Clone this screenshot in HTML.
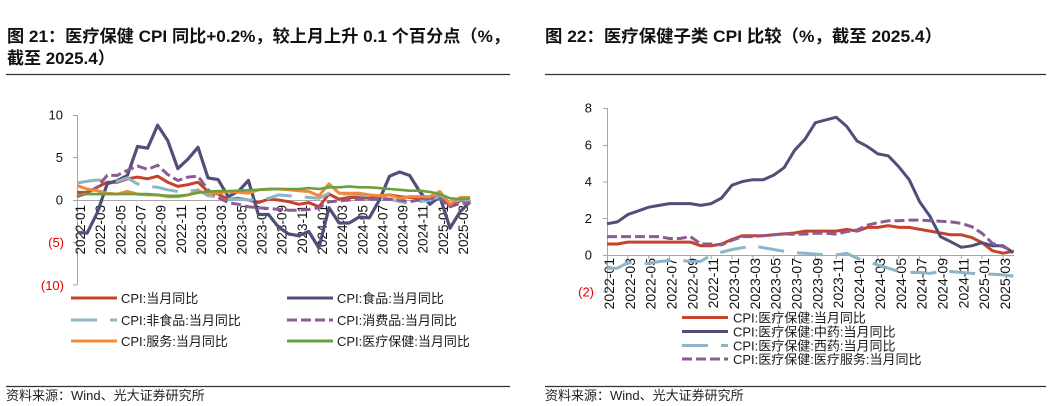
<!DOCTYPE html>
<html><head><meta charset="utf-8">
<style>
html,body{margin:0;padding:0;background:#fff;}
svg{display:block;}
text{font-family:"Liberation Sans","Noto Sans CJK SC",sans-serif;}
</style></head>
<body>
<svg width="1055" height="406" viewBox="0 0 1055 406" xmlns="http://www.w3.org/2000/svg">
<rect width="1055" height="406" fill="#fff"/>
<!-- Titles -->
<g font-weight="bold" font-size="17" fill="#111">
<text x="7" y="42" textLength="503" lengthAdjust="spacingAndGlyphs">图 21：医疗保健 CPI 同比+0.2%，较上月上升 0.1 个百分点（%，</text>
<text x="7" y="64">截至 2025.4）</text>
<text x="545" y="42" textLength="397" lengthAdjust="spacingAndGlyphs">图 22：医疗保健子类 CPI 比较（%，截至 2025.4）</text>
</g>
<line x1="6" y1="74.5" x2="510" y2="74.5" stroke="#333" stroke-width="1.2"/>
<line x1="545" y1="74.5" x2="1046" y2="74.5" stroke="#333" stroke-width="1.2"/>
<line x1="6" y1="386.5" x2="510" y2="386.5" stroke="#333" stroke-width="1.2"/>
<line x1="545" y1="386.5" x2="1046" y2="386.5" stroke="#333" stroke-width="1.2"/>
<text x="6" y="400" font-size="13" fill="#222">资料来源：Wind、光大证券研究所</text>
<text x="545" y="400" font-size="13" fill="#222">资料来源：Wind、光大证券研究所</text>

<!-- LEFT CHART -->
<g stroke="#a6a6a6" stroke-width="1">
<line x1="77.5" y1="115" x2="77.5" y2="285"/>
<line x1="73" y1="115.5" x2="77" y2="115.5"/>
<line x1="73" y1="157.5" x2="77" y2="157.5"/>
<line x1="73" y1="200.5" x2="77" y2="200.5"/>
<line x1="73" y1="242.5" x2="77" y2="242.5"/>
<line x1="73" y1="285" x2="77" y2="285"/>
<line x1="77" y1="200.5" x2="471" y2="200.5"/>
</g>
<g font-size="13" text-anchor="end">
<text x="63" y="119.5" fill="#111">10</text>
<text x="63" y="162" fill="#111">5</text>
<text x="63" y="204.5" fill="#111">0</text>
<text x="64" y="247" fill="#e00000">(5)</text>
<text x="64" y="290" fill="#e00000">(10)</text>
</g>
<g font-size="13.5" fill="#111" text-anchor="end">
<text transform="translate(85,205) rotate(-90)">2022-01</text>
<text transform="translate(105.2,205) rotate(-90)">2022-03</text>
<text transform="translate(125.3,205) rotate(-90)">2022-05</text>
<text transform="translate(145.5,205) rotate(-90)">2022-07</text>
<text transform="translate(165.6,205) rotate(-90)">2022-09</text>
<text transform="translate(185.8,205) rotate(-90)">2022-11</text>
<text transform="translate(206,205) rotate(-90)">2023-01</text>
<text transform="translate(226.2,205) rotate(-90)">2023-03</text>
<text transform="translate(246.3,205) rotate(-90)">2023-05</text>
<text transform="translate(266.4,205) rotate(-90)">2023-07</text>
<text transform="translate(286.6,205) rotate(-90)">2023-09</text>
<text transform="translate(306.8,205) rotate(-90)">2023-11</text>
<text transform="translate(326.9,205) rotate(-90)">2024-01</text>
<text transform="translate(347.1,205) rotate(-90)">2024-03</text>
<text transform="translate(367.3,205) rotate(-90)">2024-05</text>
<text transform="translate(387.4,205) rotate(-90)">2024-07</text>
<text transform="translate(407.6,205) rotate(-90)">2024-09</text>
<text transform="translate(427.7,205) rotate(-90)">2024-11</text>
<text transform="translate(447.9,205) rotate(-90)">2025-01</text>
<text transform="translate(468,205) rotate(-90)">2025-03</text>
</g>
<g fill="none" stroke-width="3" stroke-linejoin="round">
<polyline stroke="#c5432a" points="77,192.4 87.1,192.4 97.2,187.3 107.2,182.2 117.3,182.2 127.4,178.8 137.5,177.1 147.6,178.8 157.6,176.2 167.7,182.2 177.8,186.4 187.9,184.7 198,182.2 208,191.5 218.1,194.1 228.2,199.2 238.3,198.3 248.4,200 258.4,202.6 268.5,199.2 278.6,200 288.7,201.7 298.8,204.3 308.8,202.6 318.9,206.8 329,194.1 339.1,199.2 349.2,197.5 359.2,197.5 369.3,198.3 379.4,195.8 389.5,194.9 399.6,196.6 409.6,197.5 419.7,198.3 429.8,199.2 439.9,195.8 450,206 460,200.9 470.1,200.9"/>
<polyline stroke="#4f4f78" stroke-width="3.2" points="77,232.3 87.1,233.2 97.2,212.8 107.2,183.9 117.3,180.5 127.4,175.4 137.5,146.5 147.6,148.2 157.6,125.2 167.7,140.5 177.8,168.6 187.9,159.2 198,147.3 208,177.9 218.1,179.6 228.2,196.6 238.3,191.5 248.4,180.5 258.4,214.5 268.5,214.5 278.6,227.2 288.7,234 298.8,235.7 308.8,231.5 318.9,248 329,207.7 339.1,223 349.2,223 359.2,217 369.3,217.9 379.4,200 389.5,176.2 399.6,172 409.6,175.4 419.7,191.5 429.8,204.3 439.9,196.6 450,228.1 460,211.9 470.1,201.7"/>
<polyline stroke="#8db4c8" stroke-dasharray="26 13" points="77,183 87.1,181.3 97.2,180 107.2,180.5 117.3,181.3 127.4,177.9 137.5,183.9 147.6,186.4 157.6,187.3 167.7,189.8 177.8,191.5 187.9,191.5 198,189.8 208,195.8 218.1,196.6 228.2,199.2 238.3,199.2 248.4,200 258.4,199.2 268.5,198.3 278.6,194.9 288.7,195.8 298.8,196.6 308.8,197.5 318.9,198.3 329,193.2 339.1,194.1 349.2,194.1 359.2,194.9 369.3,195.8 379.4,196.6 389.5,199.2 399.6,201.7 409.6,203.4 419.7,201.7 429.8,200 439.9,196.6 450,202.6 460,200 470.1,200"/>
<polyline stroke="#8e5a96" stroke-dasharray="10 4" points="77,196.6 87.1,193.2 97.2,187.3 107.2,175.4 117.3,175.4 127.4,170.3 137.5,166 147.6,169.4 157.6,165.2 167.7,174.5 177.8,180.5 187.9,177.1 198,176.2 208,189.8 218.1,197.5 228.2,202.6 238.3,204.3 248.4,206.8 258.4,207.7 268.5,208.5 278.6,209.4 288.7,210.2 298.8,210.2 308.8,209.4 318.9,207.7 329,201.7 339.1,200.9 349.2,200 359.2,199.2 369.3,199.2 379.4,199.2 389.5,199.2 399.6,200 409.6,201.7 419.7,200 429.8,198.3 439.9,198.3 450,206.8 460,203.4 470.1,203.4"/>
<polyline stroke="#f08a3a" points="77,185.6 87.1,189 97.2,190.7 107.2,193.2 117.3,194.1 127.4,191.5 137.5,194.1 147.6,194.9 157.6,194.9 167.7,196.6 177.8,196.6 187.9,194.9 198,191.5 208,193.2 218.1,193.2 228.2,191.5 238.3,192.4 248.4,193.2 258.4,189.8 268.5,189 278.6,189 288.7,189.8 298.8,190.7 308.8,191.5 318.9,195.8 329,183.9 339.1,193.2 349.2,193.2 359.2,193.2 369.3,194.9 379.4,195.8 389.5,194.9 399.6,198.3 409.6,196.6 419.7,196.6 429.8,196.6 439.9,191.5 450,204.3 460,197.5 470.1,197.5"/>
<polyline stroke="#6aa040" stroke-width="2.6" points="77,194.9 87.1,194.1 97.2,194.1 107.2,194.1 117.3,194.1 127.4,194.1 137.5,194.1 147.6,194.1 157.6,194.9 167.7,195.8 177.8,195.8 187.9,194.9 198,192.8 208,191.5 218.1,191.1 228.2,191.1 238.3,190.7 248.4,190.2 258.4,189.8 268.5,189.4 278.6,189 288.7,189 298.8,189 308.8,188.1 318.9,189 329,187.3 339.1,187.3 349.2,186.4 359.2,187.3 369.3,187.3 379.4,188.1 389.5,189 399.6,189.8 409.6,190.7 419.7,190.7 429.8,191.9 439.9,194.1 450,198.3 460,199.2 470.1,198.3"/>
</g>
<!-- left legend -->
<g stroke-width="3" fill="none">
<line x1="71" y1="298" x2="117" y2="298" stroke="#c5432a"/>
<line x1="71" y1="320" x2="117" y2="320" stroke="#8db4c8" stroke-dasharray="26 13"/>
<line x1="71" y1="341" x2="117" y2="341" stroke="#f08a3a"/>
<line x1="287" y1="298" x2="333" y2="298" stroke="#4f4f78"/>
<line x1="287" y1="320" x2="333" y2="320" stroke="#8e5a96" stroke-dasharray="10 4"/>
<line x1="287" y1="341" x2="333" y2="341" stroke="#6aa040"/>
</g>
<g font-size="13" fill="#1a1a1a">
<text x="121" y="303">CPI:当月同比</text>
<text x="121" y="325">CPI:非食品:当月同比</text>
<text x="121" y="346">CPI:服务:当月同比</text>
<text x="337" y="303">CPI:食品:当月同比</text>
<text x="337" y="325">CPI:消费品:当月同比</text>
<text x="337" y="346">CPI:医疗保健:当月同比</text>
</g>

<!-- RIGHT CHART -->
<g stroke="#a6a6a6" stroke-width="1">
<line x1="607.5" y1="108" x2="607.5" y2="292"/>
<line x1="603" y1="108.5" x2="607" y2="108.5"/>
<line x1="603" y1="145.5" x2="607" y2="145.5"/>
<line x1="603" y1="182" x2="607" y2="182"/>
<line x1="603" y1="218.5" x2="607" y2="218.5"/>
<line x1="603" y1="255.5" x2="607" y2="255.5"/>
<line x1="603" y1="292" x2="607" y2="292"/>
<line x1="607" y1="255.5" x2="1014" y2="255.5"/>
<path d="M607.5,255v4 M627.8,255v4 M648.7,255v4 M669.5,255v4 M690.4,255v4 M711.2,255v4 M732,255v4 M752.9,255v4 M773.7,255v4 M794.6,255v4 M815.4,255v4 M836.2,255v4 M857.1,255v4 M877.9,255v4 M898.8,255v4 M919.6,255v4 M940.4,255v4 M961.3,255v4 M982.1,255v4 M1003,255v4"/>
</g>
<g font-size="13" text-anchor="end">
<text x="592" y="112.7" fill="#111">8</text>
<text x="592" y="149.5" fill="#111">6</text>
<text x="592" y="186.2" fill="#111">4</text>
<text x="592" y="223" fill="#111">2</text>
<text x="592" y="259.7" fill="#111">0</text>
<text x="594" y="296.5" fill="#e00000">(2)</text>
</g>
<g font-size="14" fill="#111" text-anchor="end">
<text transform="translate(614,258) rotate(-90)">2022-01</text>
<text transform="translate(634.8,258) rotate(-90)">2022-03</text>
<text transform="translate(655.7,258) rotate(-90)">2022-05</text>
<text transform="translate(676.5,258) rotate(-90)">2022-07</text>
<text transform="translate(697.4,258) rotate(-90)">2022-09</text>
<text transform="translate(718.2,258) rotate(-90)">2022-11</text>
<text transform="translate(739,258) rotate(-90)">2023-01</text>
<text transform="translate(759.9,258) rotate(-90)">2023-03</text>
<text transform="translate(780.7,258) rotate(-90)">2023-05</text>
<text transform="translate(801.6,258) rotate(-90)">2023-07</text>
<text transform="translate(822.4,258) rotate(-90)">2023-09</text>
<text transform="translate(843.2,258) rotate(-90)">2023-11</text>
<text transform="translate(864.1,258) rotate(-90)">2024-01</text>
<text transform="translate(884.9,258) rotate(-90)">2024-03</text>
<text transform="translate(905.8,258) rotate(-90)">2024-05</text>
<text transform="translate(926.6,258) rotate(-90)">2024-07</text>
<text transform="translate(947.4,258) rotate(-90)">2024-09</text>
<text transform="translate(968.3,258) rotate(-90)">2024-11</text>
<text transform="translate(989.1,258) rotate(-90)">2025-01</text>
<text transform="translate(1010,258) rotate(-90)">2025-03</text>
</g>
<g fill="none" stroke-width="3" stroke-linejoin="round">
<polyline stroke="#c5432a" points="607,244 617.4,244 627.8,242.1 638.3,242.1 648.7,242.1 659.1,242.1 669.5,242.1 679.9,242.1 690.4,242.1 700.8,245.8 711.2,245.8 721.6,244 732,239.4 742.5,235.7 752.9,235.7 763.3,235.7 773.7,234.8 784.1,233.9 794.6,233 805,231.1 815.4,231.1 825.8,231.1 836.2,231.1 846.7,229.3 857.1,231.1 867.5,227.4 877.9,227.4 888.3,225.6 898.8,227.4 909.2,227.4 919.6,229.3 930,231.1 940.4,233 950.9,234.8 961.3,234.8 971.7,237.5 982.1,242.7 992.5,250.8 1003,253.2 1013.4,251.3"/>
<polyline stroke="#4f4f78" points="607,223.8 617.4,221.9 627.8,214.6 638.3,210.9 648.7,207.2 659.1,205.4 669.5,203.6 679.9,203.6 690.4,203.6 700.8,205.4 711.2,203.6 721.6,198 732,185.2 742.5,181.5 752.9,179.7 763.3,179.7 773.7,175.1 784.1,167.7 794.6,150.3 805,139.2 815.4,122.7 825.8,119.9 836.2,117.2 846.7,126.4 857.1,141.1 867.5,146.6 877.9,153.9 888.3,155.8 898.8,166.8 909.2,179.7 919.6,201.7 930,216.4 940.4,236.6 950.9,241.8 961.3,247.3 971.7,245.8 982.1,242.7 992.5,245.8 1003,245.8 1013.4,252.8"/>
<polyline stroke="#8db4c8" stroke-dasharray="26 13" points="607,268.2 617.4,268.2 627.8,262.7 638.3,263.3 648.7,263.3 659.1,261.6 669.5,260.5 679.9,260.5 690.4,261.4 700.8,261.4 711.2,255 721.6,252.2 732,249.5 742.5,247.7 752.9,245.8 763.3,247.7 773.7,249.5 784.1,251.3 794.6,252.8 805,253.2 815.4,254.1 825.8,255 836.2,255 846.7,253.2 857.1,258.3 867.5,261.6 877.9,264.9 888.3,268.2 898.8,271.5 909.2,272.3 919.6,272.5 930,273.4 940.4,271.5 950.9,271.5 961.3,272.5 971.7,273.4 982.1,273.9 992.5,274.3 1003,274.9 1013.4,276.1"/>
<polyline stroke="#8e5a96" stroke-dasharray="10 4" points="607,236.6 617.4,236.6 627.8,236.6 638.3,236.6 648.7,236.6 659.1,236.6 669.5,238.5 679.9,238.5 690.4,236.6 700.8,244 711.2,244 721.6,244.9 732,240.3 742.5,236.6 752.9,236.6 763.3,235.7 773.7,234.8 784.1,233.9 794.6,234.4 805,234.1 815.4,233.3 825.8,233.3 836.2,234.1 846.7,231.7 857.1,230 867.5,225.1 877.9,222.7 888.3,220.8 898.8,220.8 909.2,220.1 919.6,220.1 930,220.8 940.4,221.2 950.9,221.9 961.3,223.4 971.7,226.7 982.1,233.3 992.5,243.4 1003,246.7 1013.4,251.3"/>
</g>
<!-- right legend -->
<g stroke-width="3" fill="none">
<line x1="682" y1="317.5" x2="728" y2="317.5" stroke="#c5432a"/>
<line x1="682" y1="331.5" x2="728" y2="331.5" stroke="#4f4f78"/>
<line x1="682" y1="345.5" x2="728" y2="345.5" stroke="#8db4c8" stroke-dasharray="26 13"/>
<line x1="682" y1="359" x2="728" y2="359" stroke="#8e5a96" stroke-dasharray="10 4"/>
</g>
<g font-size="13" fill="#1a1a1a">
<text x="733" y="322.5">CPI:医疗保健:当月同比</text>
<text x="733" y="336.5">CPI:医疗保健:中药:当月同比</text>
<text x="733" y="350.5">CPI:医疗保健:西药:当月同比</text>
<text x="733" y="364">CPI:医疗保健:医疗服务:当月同比</text>
</g>
</svg>
</body></html>
